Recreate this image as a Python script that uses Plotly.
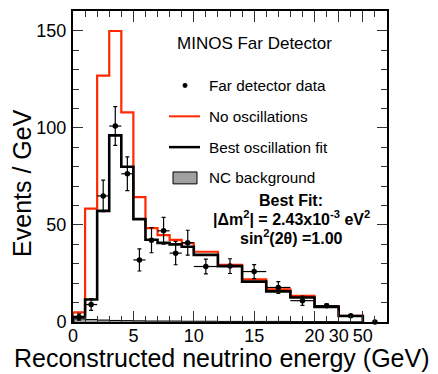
import plotly.graph_objects as go

# ---------------- data ----------------
bin_edges_gev = [0, 1, 2, 3, 4, 5, 6, 7, 8, 9, 10, 12, 14, 16, 18, 20, 30, 50]
no_osc = [5.0, 58.4, 127.0, 150.0, 108.0, 64.4, 48.4, 44.8, 42.3, 40.6,
          36.2, 29.5, 22.0, 16.8, 13.5, 8.0, 3.2]
best_fit = [2.5, 11.6, 57.3, 96.2, 80.0, 53.0, 42.4, 40.8, 40.0, 38.8,
            34.6, 28.8, 20.8, 15.8, 12.6, 7.8, 3.1]
nc_bkg = [1.6, 1.3, 1.0, 0.8, 0.7, 0.6, 0.5, 0.5, 0.5, 0.4,
          0.4, 0.3, 0.3, 0.3, 0.2, 0.2, 0.1]
data_vals = [2.6, 9.0, 65.0, 101.0, 76.4, 32.0, 42.2, 47.0, 35.5, 40.9,
             28.6, 28.8, 26.0, 17.8, 11.0, 8.4, 3.2]
data_err = [1.6, 3.0, 8.1, 10.0, 8.7, 5.7, 6.5, 6.9, 6.0, 6.4,
            3.8, 3.8, 3.6, 3.0, 2.4, 0.9, 0.4]
overflow_gev = 60
overflow_val = 0.0
tick_gev = [0, 5, 10, 15, 20, 30, 50]
tick_text = ["0", "5", "10", "15", "20", "30", "50"]

RED = "#ff2800"
FONT = "Liberation Sans, Arial, Helvetica, sans-serif"


# display scale: linear to 20 GeV, then 20-30 and 30-50 compressed to 2 units each
def to_disp(e):
    if e <= 20:
        return e
    if e <= 30:
        return 20 + (e - 20) / 5.0
    if e <= 50:
        return 22 + (e - 30) / 10.0
    return 25.0


edges_d = [to_disp(e) for e in bin_edges_gev]
centers_d = [(a + b) / 2 for a, b in zip(edges_d[:-1], edges_d[1:])]
halfw_d = [(b - a) / 2 for a, b in zip(edges_d[:-1], edges_d[1:])]


def step(vals):
    xs = [edges_d[0]] + edges_d
    ys = [0] + list(vals) + [0]
    return xs, ys


fig = go.Figure()

x, y = step(nc_bkg)
fig.add_trace(go.Scatter(x=x, y=y, mode="lines", line=dict(shape="hv", color="black", width=1),
                         fill="tozeroy", fillcolor="#a0a0a0", showlegend=False, hoverinfo="skip"))
x, y = step(no_osc)
fig.add_trace(go.Scatter(x=x, y=y, mode="lines", line=dict(shape="hv", color=RED, width=2.2),
                         showlegend=False))
x, y = step(best_fit)
fig.add_trace(go.Scatter(x=x, y=y, mode="lines", line=dict(shape="hv", color="black", width=2.6),
                         showlegend=False))
fig.add_trace(go.Scatter(
    x=centers_d + [to_disp(overflow_gev)], y=data_vals + [overflow_val], mode="markers",
    marker=dict(color="black", size=5.5),
    error_y=dict(type="data", array=data_err + [0], color="black", thickness=1.2, width=2),
    error_x=dict(type="data", array=halfw_d + [0], color="black", thickness=1.2, width=0),
    showlegend=False, cliponaxis=False))

fig.update_xaxes(range=[0, 26], tickmode="array",
                 tickvals=[to_disp(t) for t in tick_gev], ticktext=tick_text,
                 ticks="inside", ticklen=11, tickwidth=1, tickcolor="#333",
                 minor=dict(dtick=1, tick0=0, ticks="inside", ticklen=6, tickwidth=1, tickcolor="#333"),
                 showline=True, linecolor="black", linewidth=2, mirror="ticks",
                 showgrid=False, zeroline=False, ticklabelstandoff=-4,
                 tickfont=dict(family=FONT, size=18, color="black"))
fig.update_yaxes(range=[0, 160.3], tickmode="array", tickvals=[0, 50, 100, 150],
                 ticks="inside", ticklen=10, tickwidth=1, tickcolor="#333",
                 minor=dict(dtick=10, tick0=0, ticks="inside", ticklen=6, tickwidth=1, tickcolor="#333"),
                 showline=True, linecolor="black", linewidth=2, mirror="ticks",
                 showgrid=False, zeroline=False, ticklabelstandoff=1,
                 tickfont=dict(family=FONT, size=18, color="black"))

# pixel -> paper helpers for the in-plot legend/labels
L, T, W, H = 73, 9, 314, 313


def px(v):
    return (v - L) / W


def py(v):
    return (T + H - v) / H


ann = []
ann.append(dict(text="MINOS Far Detector", x=px(175), y=py(42), xanchor="left", yanchor="middle",
                font=dict(family=FONT, size=17, color="black")))
for label, yy in [("Far detector data", 84), ("No oscillations", 115),
                  ("Best oscillation fit", 146), ("NC background", 177)]:
    ann.append(dict(text=label, x=px(207), y=py(yy), xanchor="left", yanchor="middle",
                    font=dict(family=FONT, size=15.3, color="black")))
for label, yy in [("<b>Best Fit:</b>", 200),
                  ("<b>|Δm<sup>2</sup>| = 2.43x10<sup>-3</sup> eV<sup>2</sup></b>", 217.5),
                  ("<b>sin<sup>2</sup>(2θ) =1.00</b>", 236)]:
    ann.append(dict(text=label, x=px(291), y=py(yy), xanchor="center", yanchor="middle",
                    font=dict(family=FONT, size=16, color="black")))
# axis titles
ann.append(dict(text="Reconstructed neutrino energy (GeV)", x=px(222), y=py(358),
                xanchor="center", yanchor="middle", font=dict(family=FONT, size=25, color="black")))
ann.append(dict(text="Events / GeV", x=px(22), y=py(182), textangle=-90,
                xanchor="center", yanchor="middle", font=dict(family=FONT, size=25, color="black")))
for a in ann:
    a.update(xref="paper", yref="paper", showarrow=False)

shapes = [
    dict(type="circle", x0=px(182.5), x1=px(187.5), y0=py(86.5), y1=py(81.5),
         fillcolor="black", line=dict(color="black", width=0)),
    dict(type="line", x0=px(169), x1=px(200), y0=py(115), y1=py(115), line=dict(color=RED, width=2)),
    dict(type="line", x0=px(169), x1=px(200), y0=py(146), y1=py(146), line=dict(color="black", width=2.5)),
    dict(type="rect", x0=px(173), x1=px(197), y0=py(183), y1=py(171), fillcolor="#a0a0a0",
         line=dict(color="black", width=1)),
]
for s in shapes:
    s.update(xref="paper", yref="paper")

fig.update_layout(width=438, height=374, margin=dict(l=L, r=438 - L - W, t=T, b=374 - T - H),
                  plot_bgcolor="white", paper_bgcolor="white", showlegend=False,
                  annotations=ann, shapes=shapes, font=dict(family=FONT, color="black"))

fig.write_html("out.html", config={"displayModeBar": False},
               post_script="document.body.style.margin='0';document.body.style.overflow='hidden';")
